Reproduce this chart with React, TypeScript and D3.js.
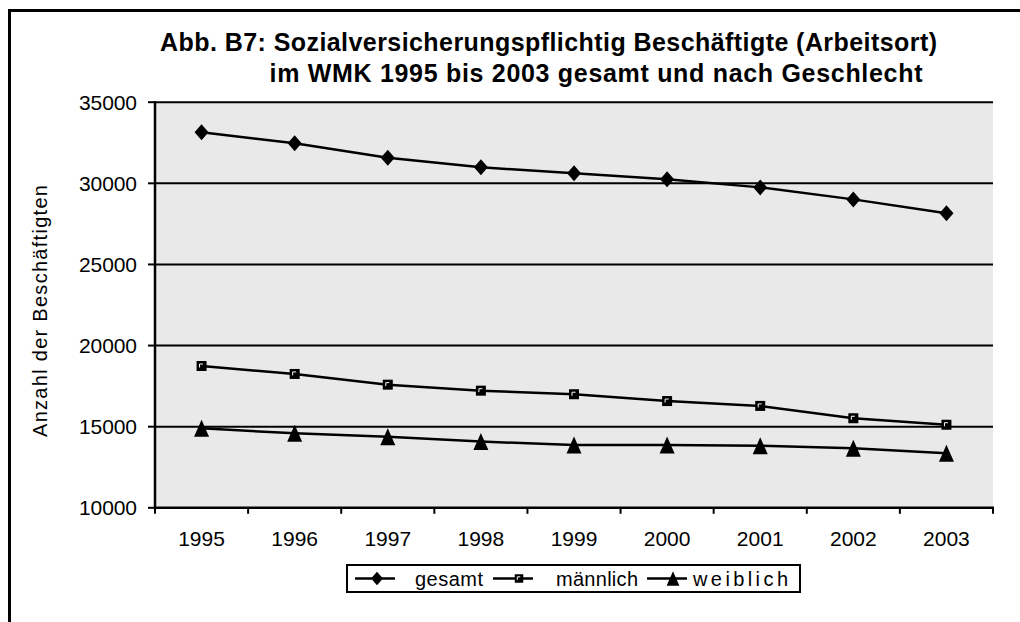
import React from "react";
import * as d3 from "d3";

const years = ["1995", "1996", "1997", "1998", "1999", "2000", "2001", "2002", "2003"];
const gesamt = [33150, 32470, 31580, 30990, 30620, 30250, 29750, 29010, 28150];
const maennlich = [18740, 18250, 17590, 17220, 17000, 16580, 16280, 15520, 15120];
const weiblich = [14900, 14590, 14380, 14080, 13870, 13870, 13830, 13670, 13360];
const yTicks = [10000, 15000, 20000, 25000, 30000, 35000];
const seriesNames = ["gesamt", "männlich", "weiblich"];
const titleLines = [
  "Abb. B7: Sozialversicherungspflichtig Beschäftigte (Arbeitsort)",
  "im WMK 1995 bis 2003 gesamt und nach Geschlecht",
];
const yTitle = "Anzahl der Beschäftigten";

const W = 1020;
const H = 622;
const plot = { left: 155, right: 993, top: 102.2, bottom: 507.8 };
const FONT = "'Liberation Sans', Arial, sans-serif";

function Marker({ kind, x, y, s = 1 }: { kind: number; x: number; y: number; s?: number }) {
  if (kind === 0) {
    const w = 7 * s, h = 8 * s;
    return <path d={`M${x},${y - h}L${x + w},${y}L${x},${y + h}L${x - w},${y}Z`} fill="#000" />;
  }
  if (kind === 1) {
    const r = 5 * s;
    return (
      <g>
        <rect x={x - r} y={y - r} width={2 * r} height={2 * r} fill="#000" />
        <path d={`M${x - 2 * s},${y + 1.5 * s}V${y - 2 * s}H${x + 1.5 * s}`} stroke="#fff" strokeWidth={1} fill="none" />
      </g>
    );
  }
  const w = 7.5 * s, h = 8.5 * s;
  return <path d={`M${x},${y - h}L${x + w},${y + h}L${x - w},${y + h}Z`} fill="#000" />;
}

export default function App() {
  const x = d3.scaleBand<string>().domain(years).range([plot.left, plot.right]);
  const y = d3.scaleLinear().domain([10000, 35000]).range([plot.bottom, plot.top]);
  const cx = (yr: string) => (x(yr) as number) + x.bandwidth() / 2;
  const line = d3
    .line<number>()
    .x((_, i) => cx(years[i]))
    .y((d) => y(d));
  const series = [gesamt, maennlich, weiblich];

  const legendItems = [
    { lx1: 355, lx2: 395, mx: 377, tx: 415, tl: 68 },
    { lx1: 493, lx2: 533, mx: 519, tx: 556, tl: 82 },
    { lx1: 647, lx2: 687, mx: 673, tx: 693, tl: 95 },
  ];

  return (
    <div style={{ position: "fixed", left: 0, top: 0, width: W, height: H, background: "#fff" }}>
      <svg width={W} height={H} style={{ display: "block" }} fontFamily={FONT}>
        <rect x={0} y={0} width={W} height={H} fill="#fff" />
        <rect x={9.5} y={10.5} width={1100} height={800} fill="none" stroke="#000" strokeWidth={3} />

        {/* Title */}
        <text x={160} y={51} fontSize={25} fontWeight="bold" textLength={777} lengthAdjust="spacing">
          {titleLines[0]}
        </text>
        <text x={269.5} y={82} fontSize={25} fontWeight="bold" textLength={653} lengthAdjust="spacing">
          {titleLines[1]}
        </text>

        {/* Plot area */}
        <rect x={plot.left} y={plot.top} width={plot.right - plot.left} height={plot.bottom - plot.top} fill="#E9E9E9" />

        {/* Gridlines */}
        {yTicks.slice(1).map((t) => (
          <line key={t} x1={plot.left} x2={plot.right} y1={y(t)} y2={y(t)} stroke="#000" strokeWidth={2} />
        ))}

        {/* Y axis */}
        <line x1={plot.left} x2={plot.left} y1={plot.top - 1} y2={plot.bottom + 1} stroke="#000" strokeWidth={2.5} />
        {yTicks.map((t) => (
          <g key={t}>
            <line x1={plot.left - 7} x2={plot.left} y1={y(t)} y2={y(t)} stroke="#000" strokeWidth={2} />
            <text x={137} y={y(t) + 7.5} fontSize={21} textAnchor="end" textLength={58} lengthAdjust="spacing">
              {t}
            </text>
          </g>
        ))}

        {/* X axis */}
        <line x1={plot.left - 1} x2={plot.right + 1} y1={plot.bottom} y2={plot.bottom} stroke="#000" strokeWidth={2.5} />
        {[...years.map((yr) => x(yr) as number), plot.right].map((v, i) => (
          <line key={i} x1={v} x2={v} y1={plot.bottom} y2={plot.bottom + 6} stroke="#000" strokeWidth={2} />
        ))}
        {years.map((yr) => (
          <text key={yr} x={cx(yr)} y={546} fontSize={21} textAnchor="middle">
            {yr}
          </text>
        ))}

        {/* Y title */}
        <text
          transform={`translate(47,${(plot.top + plot.bottom) / 2 + 6}) rotate(-90)`}
          fontSize={20}
          textAnchor="middle"
          textLength={252}
          lengthAdjust="spacing"
        >
          {yTitle}
        </text>

        {/* Series */}
        {series.map((s, k) => (
          <g key={k}>
            <path d={line(s) || ""} fill="none" stroke="#000" strokeWidth={2.5} />
            {s.map((v, i) => (
              <Marker key={i} kind={k} x={cx(years[i])} y={y(v)} />
            ))}
          </g>
        ))}

        {/* Legend */}
        <rect x={347} y={565} width={453} height={27} fill="#fff" stroke="#000" strokeWidth={2} />
        {legendItems.map((it, k) => (
          <g key={k}>
            <line x1={it.lx1} x2={it.lx2} y1={578.5} y2={578.5} stroke="#000" strokeWidth={2.5} />
            <Marker kind={k} x={it.mx} y={578.5} s={0.85} />
            <text x={it.tx} y={585.5} fontSize={20} textLength={it.tl} lengthAdjust="spacing">
              {seriesNames[k]}
            </text>
          </g>
        ))}
      </svg>
    </div>
  );
}
